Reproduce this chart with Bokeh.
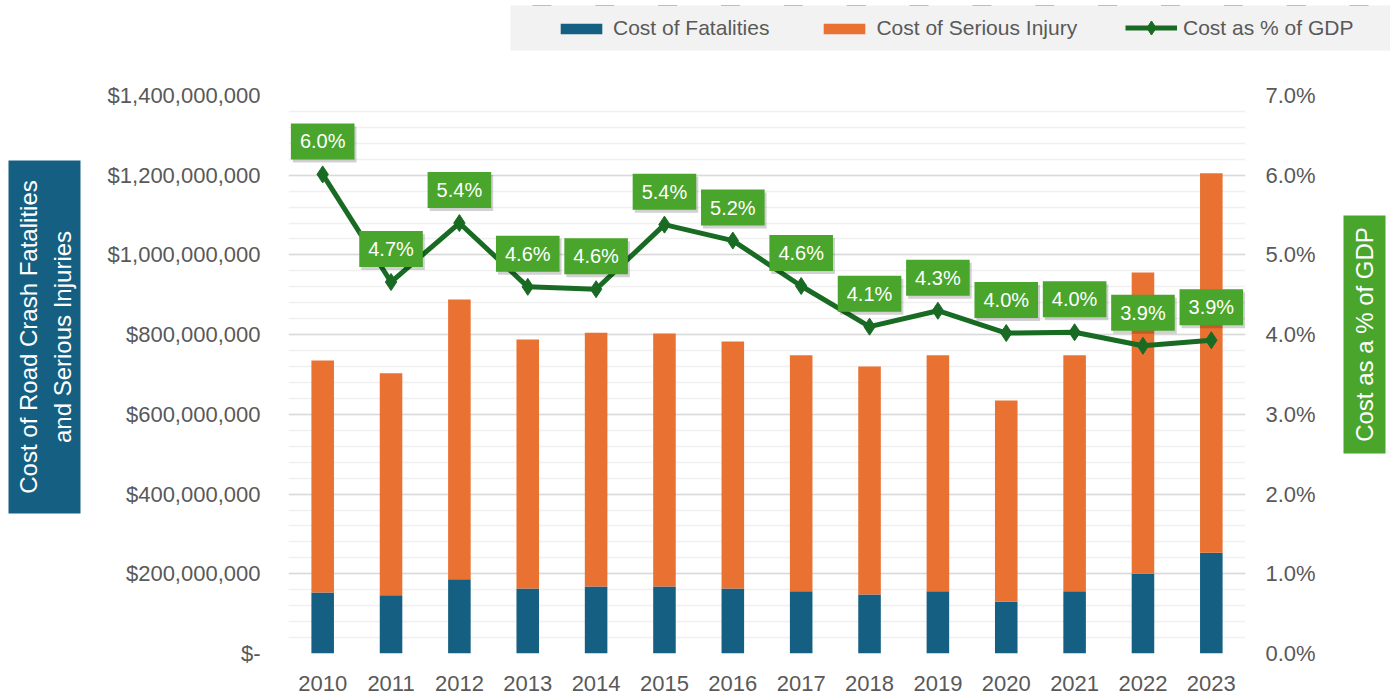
import math
from bokeh.plotting import figure
from bokeh.layouts import column, row
from bokeh.models import (ColumnDataSource, Range1d, LinearAxis, SingleIntervalTicker,
                          PrintfTickFormatter, CustomJSTickFormatter, Legend, LegendItem)
from bokeh.core.properties import value
from bokeh.embed import file_html
from bokeh.resources import INLINE

years = ["2010", "2011", "2012", "2013", "2014", "2015", "2016",
         "2017", "2018", "2019", "2020", "2021", "2022", "2023"]
fatalities = [153e6, 146e6, 186e6, 163e6, 168e6, 168e6, 163e6,
              156e6, 148e6, 156e6, 130e6, 156e6, 200e6, 253e6]
serious_injury = [582e6, 557e6, 702e6, 625e6, 637e6, 635e6, 620e6,
                  592e6, 572e6, 592e6, 505e6, 592e6, 756e6, 952e6]
gdp_pct = [6.01, 4.66, 5.40, 4.60, 4.57, 5.38, 5.18,
           4.61, 4.10, 4.30, 4.02, 4.03, 3.86, 3.93]
series_names = ["Cost of Fatalities", "Cost of Serious Injury", "Cost as % of GDP"]
left_title = "Cost of Road Crash Fatalities\nand Serious Injuries"
right_title = "Cost as a % of GDP"

BLUE = "#156082"
ORANGE = "#E97132"
GREEN = "#196B24"
LGREEN = "#4AA52C"
GREY_TXT = "#595959"
FONT = "Liberation Sans"

src = ColumnDataSource(dict(
    year=years, fat=fatalities, inj=serious_injury, gdp=gdp_pct,
    lbl=[f"{v:.1f}%" for v in gdp_pct],
))


def no_align(fig):
    try:
        fig.frame_align = False
    except Exception:
        pass


W = 1396
LH = 52                       # legend strip height
RH = 697 - LH                 # chart row height
LW, RW = 88, 66               # side title strips
PW = W - LW - RW              # main figure width

# ---------------- legend strip ----------------
lg = figure(width=1390, height=LH, x_range=years, y_range=Range1d(-2, -1),
            x_axis_location=None, y_axis_location=None,
            output_backend="svg", toolbar_location=None,
            min_border_left=510, min_border_right=0, min_border_top=5, min_border_bottom=2)
lg.grid.visible = False
lg.outline_line_color = None
lg.background_fill_color = "#f2f2f2"
lg.border_fill_color = "white"
d_fat = lg.vbar(x="year", top="fat", width=0.3, source=src, fill_color=BLUE, line_color=None)
d_inj = lg.vbar(x="year", top="inj", width=0.3, source=src, fill_color=ORANGE, line_color=None)
d_ln = lg.line(x="year", y="gdp", source=src, line_color=GREEN, line_width=5)
d_mk = lg.scatter(x="year", y="gdp", source=src, marker="diamond", size=17,
                  fill_color=GREEN, line_color=GREEN)
leg_style = dict(orientation="horizontal", background_fill_alpha=0, border_line_color=None,
                 label_text_font=FONT, label_text_font_size="21px",
                 label_text_color=GREY_TXT, glyph_width=52,
                 label_standoff=6, spacing=49, padding=0, margin=0)
legend1 = Legend(items=[LegendItem(label=series_names[0], renderers=[d_fat]),
                        LegendItem(label=series_names[1], renderers=[d_inj])],
                 location=(45, 10), glyph_height=13, **leg_style)
legend2 = Legend(items=[LegendItem(label=series_names[2], renderers=[d_ln, d_mk])],
                 location=(615, 5), glyph_height=35, **leg_style)
lg.add_layout(legend1, "center")
lg.add_layout(legend2, "center")
no_align(lg)

# ---------------- left title strip ----------------
lf = figure(width=LW, height=RH, x_range=Range1d(0, LW), y_range=Range1d(0, RH),
            x_axis_location=None, y_axis_location=None,
            output_backend="svg", toolbar_location=None, min_border=0)
lf.grid.visible = False
lf.outline_line_color = None
lf.quad(left=[8], right=[80], bottom=[RH - 461], top=[RH - 108], fill_color=BLUE, line_color=None)
lf.text(x=[45], y=[RH - 284.5], text=[left_title], angle=math.pi / 2,
        text_align="center", text_baseline="middle", text_color="white",
        text_font=value(FONT), text_font_size="24px", text_line_height=1.25)
no_align(lf)

# ---------------- right title strip ----------------
rf = figure(width=RW, height=RH, x_range=Range1d(0, RW), y_range=Range1d(0, RH),
            x_axis_location=None, y_axis_location=None,
            output_backend="svg", toolbar_location=None, min_border=0)
rf.grid.visible = False
rf.outline_line_color = None
rf.quad(left=[13], right=[55], bottom=[RH - 401], top=[RH - 163], fill_color=LGREEN, line_color=None)
rf.text(x=[34], y=[RH - 282], text=[right_title], angle=math.pi / 2,
        text_align="center", text_baseline="middle", text_color="white",
        text_font=value(FONT), text_font_size="24px")
no_align(rf)

# ---------------- main chart ----------------
FT, FB = 95 - LH, 653 - LH
p = figure(width=PW, height=RH, x_range=years, y_range=Range1d(0, 1.4e9),
           output_backend="svg", toolbar_location=None,
           min_border_left=288 - LW, min_border_right=(LW + PW) - 1245,
           min_border_top=FT, min_border_bottom=RH - FB)
p.outline_line_color = None
p.xgrid.grid_line_color = None
p.x_range.range_padding = 0
p.ygrid.grid_line_color = "#d9d9d9"
p.ygrid.grid_line_width = 1.5
p.ygrid.minor_grid_line_color = "#f0f0f0"
p.ygrid.minor_grid_line_width = 1.5
p.extra_y_ranges = {"pct": Range1d(0, 7)}

yax = p.yaxis[0]
yax.ticker = SingleIntervalTicker(interval=2e8, num_minor_ticks=5)
yax.formatter = CustomJSTickFormatter(code="""
if (tick == 0) return '$-';
return '$' + Math.round(tick).toLocaleString('en-US');
""")
ax_r = LinearAxis(y_range_name="pct",
                  ticker=SingleIntervalTicker(interval=1, num_minor_ticks=5),
                  formatter=PrintfTickFormatter(format="%.1f%%"))
p.add_layout(ax_r, "right")
for ax in [yax, ax_r, p.xaxis[0]]:
    ax.axis_line_color = None
    ax.major_tick_line_color = None
    ax.minor_tick_line_color = None
    ax.major_tick_out = 0
    ax.minor_tick_out = 0
    ax.major_label_text_color = GREY_TXT
    ax.major_label_text_font = FONT
    ax.major_label_text_font_size = "22px"
yax.major_label_standoff = 28
ax_r.major_label_standoff = 20
p.xaxis[0].major_label_standoff = 22

bars = p.vbar_stack(["fat", "inj"], x="year", width=0.33, source=src,
                    color=[BLUE, ORANGE], line_color=None)
ln = p.line(x="year", y="gdp", source=src, y_range_name="pct", line_color=GREEN, line_width=5)
mk = p.scatter(x="year", y="gdp", source=src, y_range_name="pct", marker="diamond",
               size=17, fill_color=GREEN, line_color=GREEN)

p.text(x="year", y="gdp", text="lbl", source=src, y_range_name="pct",
       text_align="center", text_baseline="middle", x_offset=2, y_offset=-30,
       text_alpha=0, text_font=value(FONT), text_font_size="20px",
       background_fill_color="#000000", background_fill_alpha=0.18, padding=(9, 7))
p.text(x="year", y="gdp", text="lbl", source=src, y_range_name="pct",
       text_align="center", text_baseline="middle", y_offset=-33,
       text_color="white", text_font=value(FONT), text_font_size="20px",
       background_fill_color=LGREEN, padding=(9, 7))
no_align(p)

layout = column(lg, row(lf, p, rf))
open("out.html", "w").write(file_html(layout, INLINE))
